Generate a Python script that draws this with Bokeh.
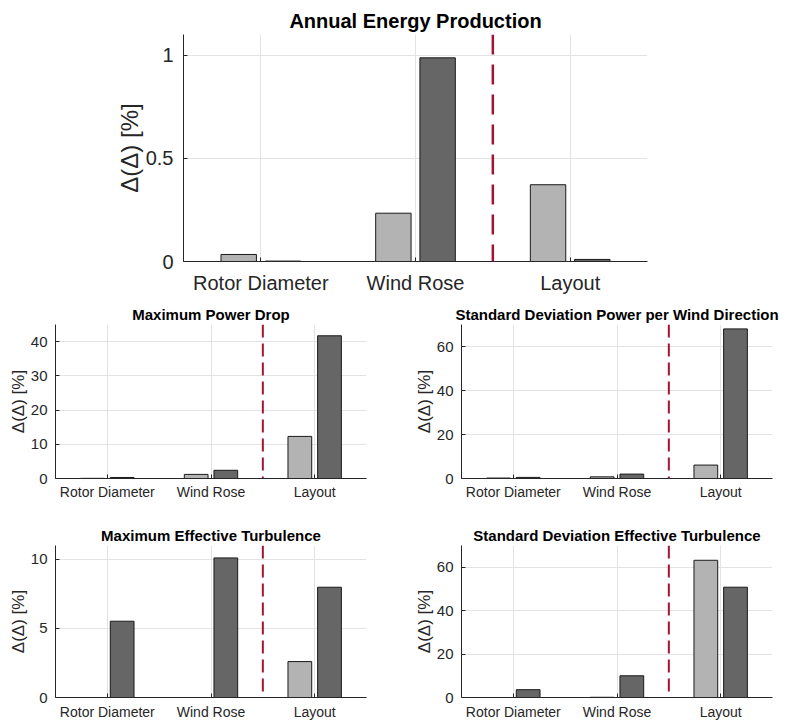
from bokeh.plotting import figure
from bokeh.layouts import column, row
from bokeh.models import FixedTicker, Span, NumeralTickFormatter, Range1d, ColumnDataSource
from bokeh.transform import dodge
from bokeh.embed import file_html
from bokeh.resources import INLINE

# ---------------- data ----------------
categories = ["Rotor Diameter", "Wind Rose", "Layout"]
cat_pos = [1, 2, 3]

aep_light = [0.034, 0.234, 0.372]
aep_dark = [0.002, 0.987, 0.010]

mpd_light = [0.05, 1.2, 12.3]
mpd_dark = [0.3, 2.4, 41.7]

sdp_light = [0.2, 0.75, 6.1]
sdp_dark = [0.5, 2.0, 68.0]

met_light = [0.0, 0.0, 2.6]
met_dark = [5.52, 10.1, 7.98]

sdt_light = [0.0, 0.1, 63.2]
sdt_dark = [3.6, 10.0, 50.8]

separator = 2.5

FONT = "Liberation Sans"
AX = "#262626"
LIGHT = "#B3B3B3"
DARK = "#666666"
RED = "#A2142F"


def make(title, light, dark, ymax, yticks, width, height, bl, br, bt, bb,
         tick_fs, label_fs, title_fs, ylab_fs, dash, dash_w, title_standoff,
         x_standoff, y_standoff, lab_standoff):
    p = figure(width=width, height=height, output_backend="svg", toolbar_location=None,
               x_range=Range1d(0.5, 3.5), y_range=Range1d(0, ymax),
               min_border_left=bl, min_border_right=br, min_border_top=bt,
               min_border_bottom=bb, title=title)
    src = ColumnDataSource(dict(pos=cat_pos, light=light, dark=dark))
    p.vbar(x=dodge("pos", -0.143, range=p.x_range), top="light", bottom=0, width=0.229,
           source=src, fill_color=LIGHT, line_color="#1a1a1a", line_width=1)
    p.vbar(x=dodge("pos", 0.143, range=p.x_range), top="dark", bottom=0, width=0.229,
           source=src, fill_color=DARK, line_color="#1a1a1a", line_width=1)
    p.add_layout(Span(location=separator, dimension="height", line_color=RED,
                      line_width=dash_w, line_dash=dash))

    p.outline_line_color = None
    p.background_fill_color = "white"
    p.border_fill_color = "white"

    p.xaxis.ticker = FixedTicker(ticks=cat_pos)
    p.xaxis.major_label_overrides = {c: n for c, n in zip(cat_pos, categories)}
    p.yaxis.ticker = FixedTicker(ticks=yticks)
    p.yaxis.formatter = NumeralTickFormatter(format="0.[0]")

    for ax in (p.xaxis, p.yaxis):
        ax.axis_line_color = AX
        ax.major_tick_line_color = AX
        ax.major_tick_in = 4
        ax.major_tick_out = 0
        ax.minor_tick_line_color = None
        ax.major_label_text_font = FONT
        ax.major_label_text_color = AX
        ax.major_label_text_font_size = tick_fs
        ax.axis_label_text_font = FONT
        ax.axis_label_text_color = AX
        ax.axis_label_text_font_style = "normal"
    p.xaxis.major_label_text_font_size = label_fs
    p.xaxis.major_label_standoff = x_standoff
    p.yaxis.major_label_standoff = y_standoff
    p.yaxis.axis_label = "Δ(Δ) [%]"
    p.yaxis.axis_label_text_font_size = ylab_fs
    p.yaxis.axis_label_standoff = lab_standoff

    p.grid.grid_line_color = "#E3E3E3"
    p.grid.grid_line_width = 1

    p.title.text_font = FONT
    p.title.text_font_size = title_fs
    p.title.text_font_style = "bold"
    p.title.text_color = "black"
    p.title.align = "center"
    p.title.standoff = title_standoff
    return p


top = make("Annual Energy Production", aep_light, aep_dark, 1.1, [0, 0.5, 1],
           787, 296, 183, 140, 34, 33, "20px", "20px", "20px", "24px",
           "20 10", 2.5, 5, 10, 10, 0)

p1 = make("Maximum Power Drop", mpd_light, mpd_dark, 45, [0, 10, 20, 30, 40],
          411, 222, 55, 45, 28, 40, "15px", "14px", "15px", "17px",
          "13 6", 2, 4, 5, 8, 0)
p2 = make("Standard Deviation Power per Wind Direction", sdp_light, sdp_dark, 70,
          [0, 20, 40, 60], 376, 222, 50, 15, 28, 40, "15px", "14px", "15px", "17px",
          "13 6", 2, 4, 5, 8, 0)
p3 = make("Maximum Effective Turbulence", met_light, met_dark, 11, [0, 5, 10],
          411, 204, 55, 45, 27, 23, "15px", "14px", "15px", "17px",
          "13 6", 2, 4, 6, 8, 0)
p4 = make("Standard Deviation Effective Turbulence", sdt_light, sdt_dark, 70,
          [0, 20, 40, 60], 376, 204, 50, 15, 27, 23, "15px", "14px", "15px", "17px",
          "13 6", 2, 4, 6, 8, 0)

layout = column(top, row(p1, p2), row(p3, p4))

open("out.html", "w").write(file_html(layout, INLINE))
